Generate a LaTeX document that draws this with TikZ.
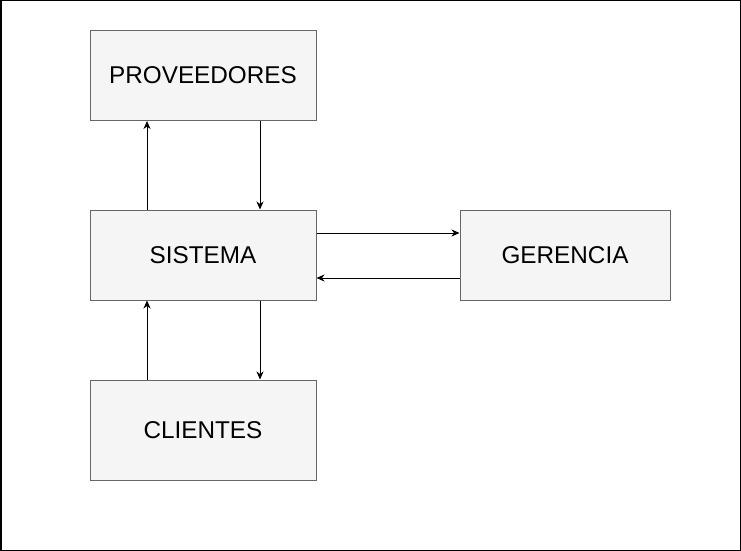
\documentclass[tikz,border=0pt]{standalone}
\usepackage{fontspec}
\setmainfont{Liberation Sans}
\usepackage{tikz}
\usetikzlibrary{arrows.meta}
\definecolor{boxfill}{HTML}{F5F5F5}
\definecolor{boxline}{HTML}{666666}
\tikzset{>={Stealth[length=8pt,width=7pt,inset=2.5pt]},x=1pt,y=-1pt,
  block/.style={draw=boxline,fill=boxfill,line width=1pt,minimum width=226pt,minimum height=90pt,
    inner sep=0pt,font=\fontsize{24.3}{29}\selectfont},
  flow/.style={->,line width=1pt}}

\begin{document}
\begin{tikzpicture}
    \draw[line width=1.5pt] (0.75,0.75) rectangle (740.25,550.25);
    \node[block] (prov) at (203,75.5) {PROVEEDORES};
    \node[block] (sis) at (203,255) {SISTEMA};
    \node[block,minimum height=100pt] (cli) at (203,430) {CLIENTES};
    \node[block,minimum width=210pt] (ger) at (565,255) {GERENCIA};
    \draw[flow] ([xshift=-56pt]sis.north) -- ([xshift=-56pt]prov.south);
    \draw[flow] ([xshift=57pt]prov.south) -- ([xshift=57pt]sis.north);
    \draw[flow] ([yshift=22pt]sis.east) -- ([yshift=22pt]ger.west);
    \draw[flow] ([yshift=-23pt]ger.west) -- ([yshift=-23pt]sis.east);
    \draw[flow] ([xshift=57pt]sis.south) -- ([xshift=57pt]cli.north);
    \draw[flow] ([xshift=-56pt]cli.north) -- ([xshift=-56pt]sis.south);
\end{tikzpicture}
\end{document}
